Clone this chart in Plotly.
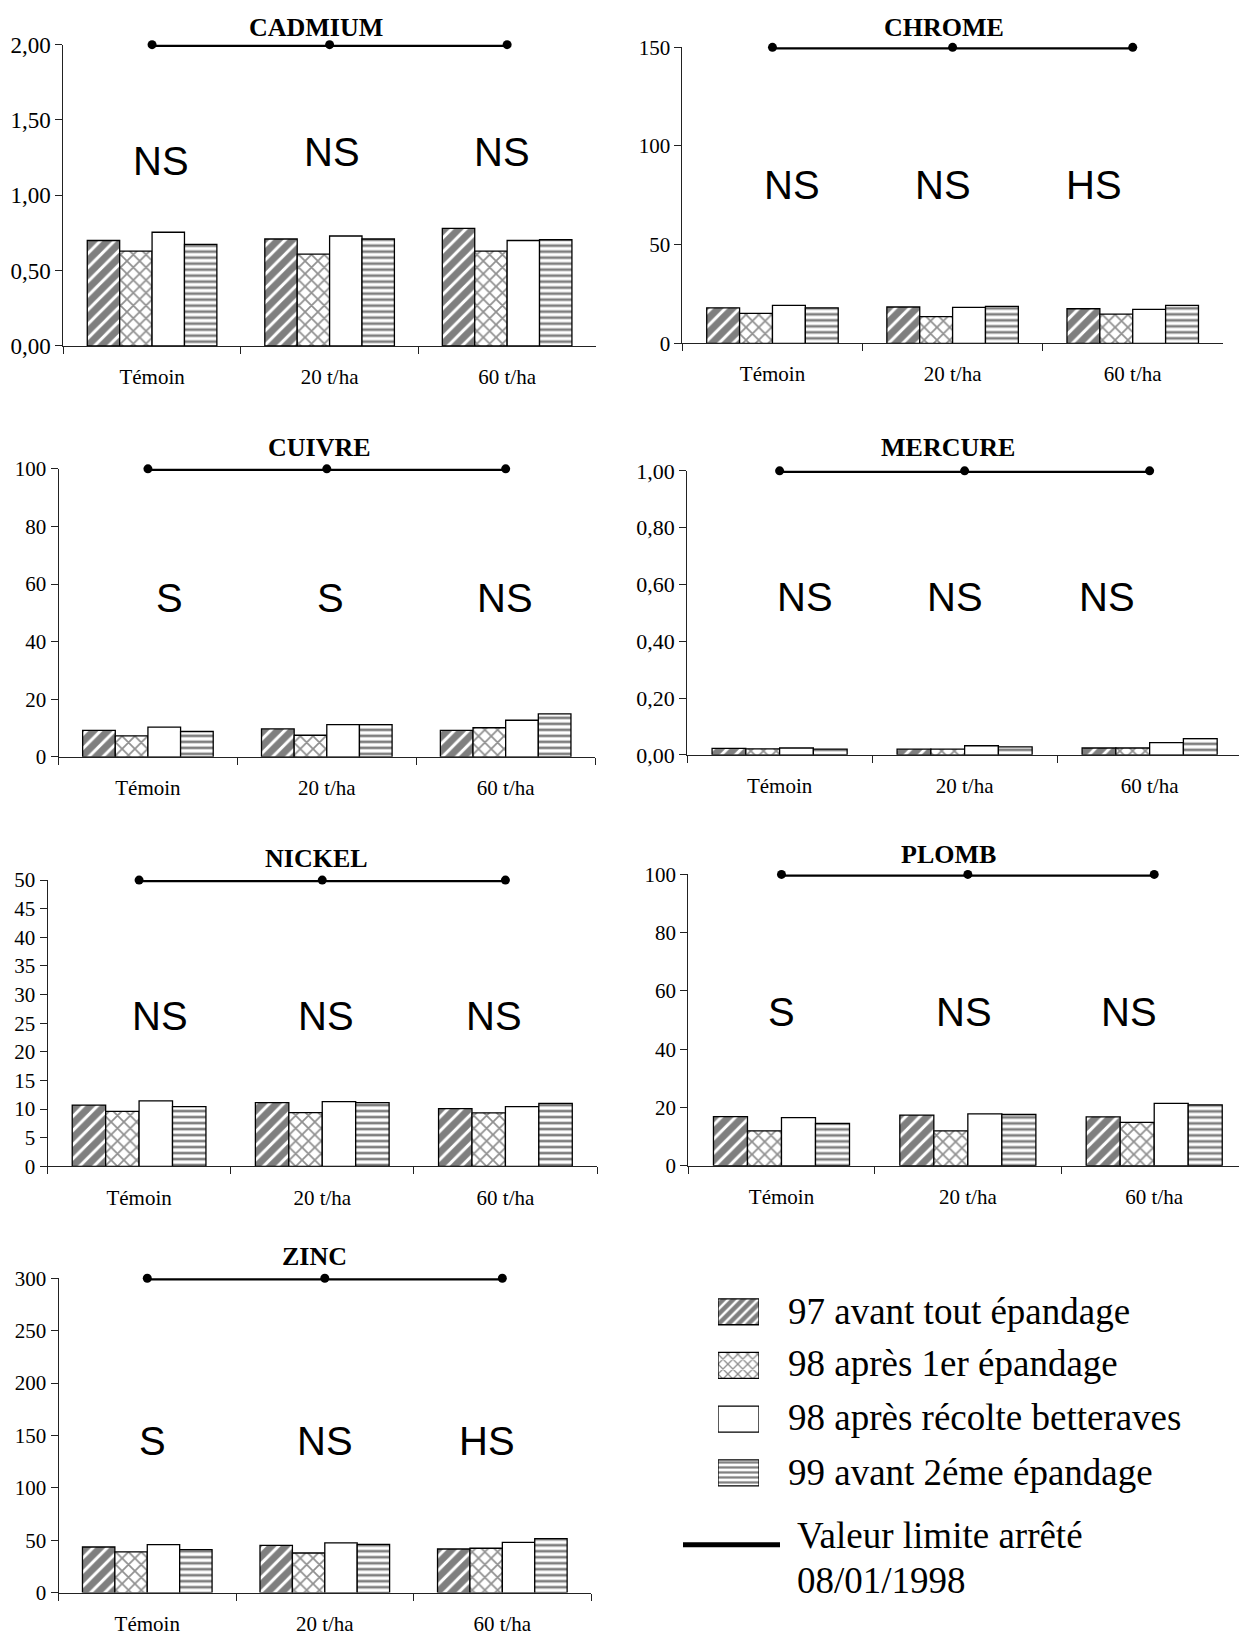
import plotly.graph_objects as go

# ---------------- data ----------------
categories = ["Témoin", "20 t/ha", "60 t/ha"]
series_names = ["97 avant tout épandage", "98 après 1er épandage",
                "98 après récolte betteraves", "99 avant 2éme épandage"]
limit_name = ["Valeur limite arrêté", "08/01/1998"]

# per element: [97, 98 après 1er, 98 après récolte, 99] x [Témoin, 20 t/ha, 60 t/ha]
cadmium = [[0.70, 0.71, 0.78], [0.63, 0.61, 0.63], [0.755, 0.73, 0.70], [0.675, 0.71, 0.705]]
chrome = [[18.0, 18.4, 17.5], [15.2, 13.5, 14.8], [19.2, 18.2, 17.2], [18.0, 18.7, 19.2]]
cuivre = [[9.2, 9.7, 9.2], [7.3, 7.5, 10.1], [10.3, 11.2, 12.7], [8.8, 11.2, 14.9]]
mercure = [[0.023, 0.020, 0.024], [0.021, 0.020, 0.024], [0.024, 0.032, 0.043], [0.020, 0.028, 0.057]]
nickel = [[10.7, 11.15, 10.1], [9.6, 9.4, 9.35], [11.45, 11.3, 10.45], [10.45, 11.15, 11.0]]
plomb = [[16.9, 17.4, 16.8], [12.0, 12.0, 14.9], [16.5, 17.8, 21.4], [14.5, 17.6, 20.9]]
zinc = [[43.5, 45.1, 41.6], [38.8, 37.8, 42.3], [45.8, 47.4, 48.0], [41.0, 46.1, 51.5]]

element_names = ["CADMIUM", "CHROME", "CUIVRE", "MERCURE", "NICKEL", "PLOMB", "ZINC"]
limits = [2.0, 150, 100, 1.0, 50, 100, 300]
tick_steps = [0.5, 50, 20, 0.2, 5, 20, 50]
tick_formats = [".2f", "d", "d", ".2f", "d", "d", "d"]
significance = [["NS", "NS", "NS"], ["NS", "NS", "HS"], ["S", "S", "NS"],
                ["NS", "NS", "NS"], ["NS", "NS", "NS"], ["S", "NS", "NS"], ["S", "NS", "HS"]]

# ---------------- layout / style ----------------
W, H = 1239, 1636
# plot boxes in px: x0, x1, ytop, ybottom, xrange_end
boxes = [
    (63.3, 595.9, 44.3, 346.0, 2.5),
    (682.4, 1222.8, 47.0, 343.3, 2.5),
    (58.5, 595.1, 469.0, 757.3, 2.5),
    (687.1, 1239.0, 471.0, 755.3, 2.483),
    (47.5, 597.0, 880.7, 1167.3, 2.5),
    (688.3, 1239.0, 875.0, 1166.7, 2.455),
    (58.5, 591.1, 1279.3, 1594.0, 2.5),
]
ytick_sizes = [23, 21, 21, 22, 21, 21, 21]
title_pos = [(316, 27), (944, 27), (319, 448), (948, 448), (316, 859), (948, 855), (314, 1258)]
sig_x = [[0.048, 1.016, 1.97], [0.107, 0.949, 1.785], [0.123, 1.018, 1.998],
         [0.135, 0.948, 1.771], [0.115, 1.022, 1.94], [-0.002, 0.977, 1.867],
         [0.027, 1.002, 1.915]]
sig_y = [[1.23, 1.285, 1.285], [80, 80, 80], [55, 55, 55], [0.557, 0.557, 0.557],
         [26.3, 26.3, 26.3], [52.7, 52.7, 52.7], [145, 145, 145]]

patterns = [
    dict(shape="/", fgcolor="black", bgcolor="white", size=10, solidity=0.7),
    dict(shape="x", fgcolor="#222222", bgcolor="white", size=9, solidity=0.35),
    dict(shape="", fgcolor="black", bgcolor="white"),
    dict(shape="-", fgcolor="black", bgcolor="white", size=6, solidity=0.45),
]

SERIF = "Liberation Serif"
SANS = "Liberation Sans"

def fx(v):
    return v / W

def fy(v):
    # vertical px (from top) -> paper fraction, with a small stretch so the
    # photographed page lines up with the reference
    return 1 - (1.015 * v - 11.8) / H

datasets = [cadmium, chrome, cuivre, mercure, nickel, plomb, zinc]

fig = go.Figure()
annotations = []
layout_axes = {}

for i, data in enumerate(datasets):
    n = i + 1
    xa, ya = f"x{n}", f"y{n}"
    for s in range(4):
        fig.add_trace(go.Bar(
            x=categories, y=data[s], name=series_names[s],
            marker=dict(color="white", line=dict(color="black", width=1.3),
                        pattern=patterns[s]),
            xaxis=xa, yaxis=ya, showlegend=False, cliponaxis=False,
        ))
    fig.add_trace(go.Scatter(
        x=categories, y=[limits[i]] * 3, mode="lines+markers",
        line=dict(color="black", width=4.5), marker=dict(color="black", size=9),
        xaxis=xa, yaxis=ya, showlegend=False, cliponaxis=False,
    ))
    x0, x1, yt, yb, xr = boxes[i]
    layout_axes[f"xaxis{n}"] = dict(
        domain=[fx(x0), fx(x1)], anchor=ya, type="category",
        range=[-0.5, xr], showline=True, linecolor="#222", linewidth=1,
        ticks="outside", tickson="boundaries", ticklen=7, tickcolor="#222",
        tickfont=dict(family=SERIF, size=21, color="black"),
        ticklabelstandoff=12, showgrid=False, zeroline=False, fixedrange=True,
    )
    layout_axes[f"yaxis{n}"] = dict(
        domain=[fy(yb), fy(yt)], anchor=xa, range=[0, limits[i]],
        dtick=tick_steps[i], tick0=0, tickformat=tick_formats[i],
        showline=True, linecolor="#222", linewidth=1,
        ticks="outside", ticklen=7, tickcolor="#222",
        tickfont=dict(family=SERIF, size=ytick_sizes[i], color="black"),
        showgrid=False, zeroline=False, fixedrange=True,
    )
    tx, ty = title_pos[i]
    annotations.append(dict(
        x=fx(tx), y=fy(ty), xref="paper", yref="paper", text=f"<b>{element_names[i]}</b>",
        showarrow=False, xanchor="center", yanchor="middle",
        font=dict(family=SERIF, size=26, color="black"),
    ))
    for k in range(3):
        annotations.append(dict(
            x=sig_x[i][k], y=sig_y[i][k], xref=xa, yref=ya, text=significance[i][k],
            showarrow=False, xanchor="center", yanchor="middle",
            font=dict(family=SANS, size=40, color="black"),
        ))

# ---------------- legend ----------------
leg_rows = [0, 1, 2, 3]
fig.add_trace(go.Bar(
    x=[1, 1, 1, 1], y=leg_rows, orientation="h", width=0.484,
    marker=dict(
        color="white", line=dict(color="black", width=1.3),
        pattern=dict(
            shape=[p["shape"] for p in patterns],
            fgcolor=[p["fgcolor"] for p in patterns],
            bgcolor=["white"] * 4,
            size=[7, 7, 8, 5],
            solidity=[0.65, 0.35, 0.3, 0.45],
        ),
    ),
    xaxis="x8", yaxis="y8", showlegend=False, hoverinfo="skip",
))
layout_axes["xaxis8"] = dict(domain=[fx(718), fx(759)], range=[0, 1], visible=False,
                             anchor="y8", fixedrange=True)
layout_axes["yaxis8"] = dict(domain=[fy(1501), fy(1286)], range=[3.5, -0.5], visible=False,
                             anchor="x8", fixedrange=True)

leg_text_y = [1313, 1365, 1418.5, 1474]
for s in range(4):
    annotations.append(dict(
        x=fx(785.6), y=fy(leg_text_y[s]), xref="paper", yref="paper", text=series_names[s],
        showarrow=False, xanchor="left", yanchor="middle",
        font=dict(family=SERIF, size=37, color="black"),
    ))
for j, ly in enumerate([1536.7, 1582]):
    annotations.append(dict(
        x=fx(794.8), y=fy(ly), xref="paper", yref="paper", text=limit_name[j],
        showarrow=False, xanchor="left", yanchor="middle",
        font=dict(family=SERIF, size=37, color="black"),
    ))

shapes = [dict(type="line", xref="paper", yref="paper",
               x0=fx(683), x1=fx(780), y0=fy(1546), y1=fy(1546),
               line=dict(color="black", width=5))]

fig.update_layout(
    width=W, height=H, autosize=False,
    margin=dict(l=0, r=0, t=0, b=0),
    paper_bgcolor="white", plot_bgcolor="white",
    barmode="group", bargap=0.27, bargroupgap=0,
    separators=", ",
    annotations=annotations, shapes=shapes,
    showlegend=False,
    **layout_axes,
)

page_css = (
    "var de=document.documentElement, b=document.body;"
    "[de,b].forEach(function(e){e.style.margin='0px';e.style.padding='0px';"
    "e.style.overflow='hidden';e.style.width='1239px';e.style.height='1636px';});"
    "var d=document.getElementById('{plot_id}');"
    "d.style.position='absolute';d.style.left='0px';d.style.top='0px';"
)

fig.write_html(
    "out.html",
    config={"displayModeBar": False},
    post_script=page_css,
)
